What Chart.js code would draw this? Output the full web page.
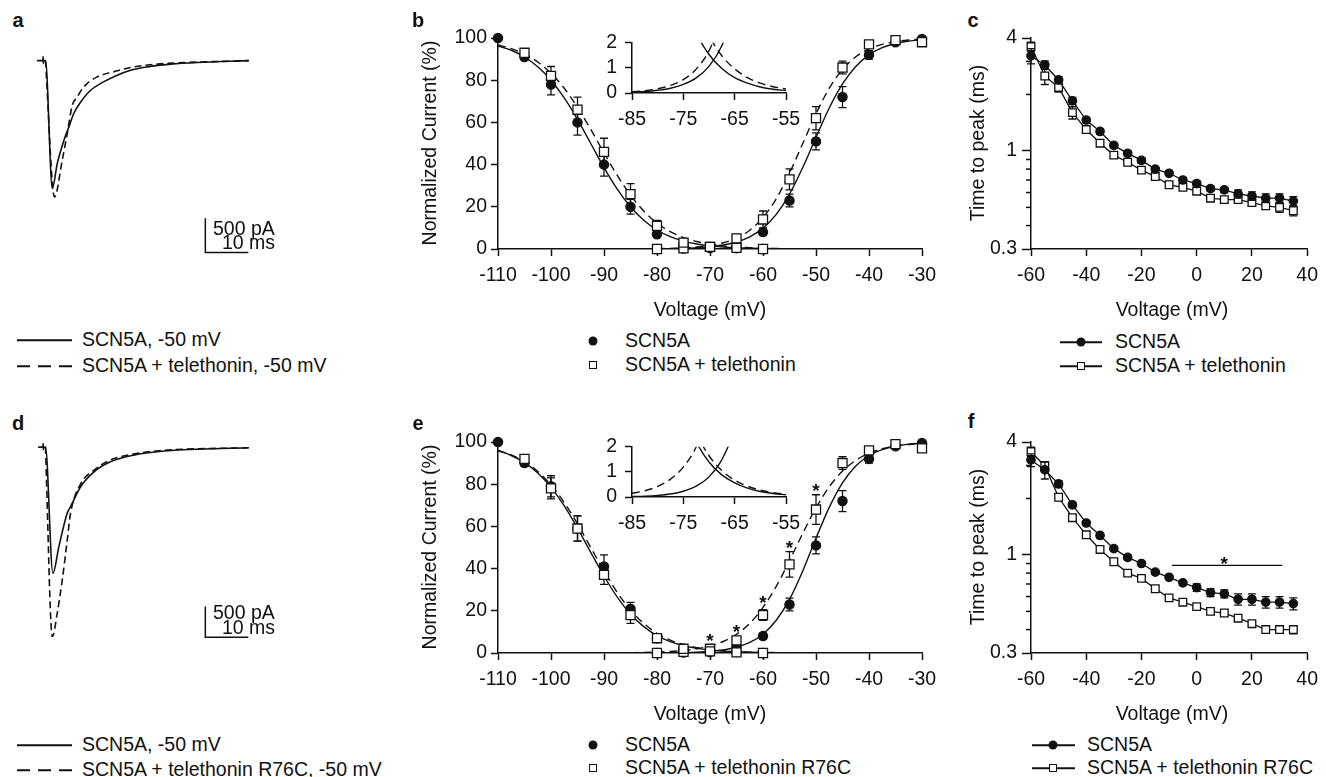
<!DOCTYPE html>
<html>
<head>
<meta charset="utf-8">
<script src="https://cdn.jsdelivr.net/npm/chart.js@4.4.1/dist/chart.umd.min.js"></script>
<style>
html, body { margin: 0; padding: 0; background: #fff; }
#fig { position: relative; width: 1326px; height: 777px; overflow: hidden; background: #fff;
       font-family: "Liberation Sans", Arial, sans-serif; color: #111; }
#fig canvas { position: absolute; }
.t { position: absolute; font-size: 19.5px; white-space: nowrap; line-height: 1; }
.c { transform: translate(-50%, -50%); }
.l { transform: translate(0, -50%); }
.v { transform: translate(-50%, -50%) rotate(-90deg); }
.p { font-weight: bold; font-size: 20px; }
.dot { position: absolute; width: 9px; height: 9px; border-radius: 50%; background: #111; transform: translate(-50%, -50%); }
.sq { position: absolute; width: 6px; height: 6px; border: 1.5px solid #111; background: #fff; transform: translate(-50%, -50%); }
.ln { position: absolute; height: 1.5px; background: #111; transform: translate(0, -50%); }
.dl { position: absolute; height: 1.5px; transform: translate(0, -50%);
      background: repeating-linear-gradient(to right, #111 0 13px, transparent 13px 21px); }
</style>
</head>
<body>
<div id="fig">
  <canvas id="chartA"></canvas>
  <canvas id="chartD"></canvas>
  <canvas id="chartB"></canvas>
  <canvas id="insetB"></canvas>
  <canvas id="chartE"></canvas>
  <canvas id="insetE"></canvas>
  <canvas id="chartC"></canvas>
  <canvas id="chartF"></canvas>

  <!-- panel letters -->
  <div class="t c p" style="left:18px;top:20px">a</div>
  <div class="t c p" style="left:418px;top:20px">b</div>
  <div class="t c p" style="left:973px;top:20px">c</div>
  <div class="t c p" style="left:18px;top:423px">d</div>
  <div class="t c p" style="left:418px;top:423px">e</div>
  <div class="t c p" style="left:971px;top:421px">f</div>

  <!-- scale bar text -->
  <div class="t l" style="left:213px;top:229px">500 pA</div>
  <div class="t l" style="left:222px;top:243px">10 ms</div>
  <div class="t l" style="left:213px;top:613px">500 pA</div>
  <div class="t l" style="left:222px;top:628px">10 ms</div>

  <!-- axis titles -->
  <div class="t v" style="left:430px;top:143px">Normalized Current (%)</div>
  <div class="t v" style="left:430px;top:547px">Normalized Current (%)</div>
  <div class="t v" style="left:978px;top:143px">Time to peak (ms)</div>
  <div class="t v" style="left:978px;top:547px">Time to peak (ms)</div>
  <div class="t c" style="left:710px;top:310px">Voltage (mV)</div>
  <div class="t c" style="left:710px;top:714px">Voltage (mV)</div>
  <div class="t c" style="left:1172px;top:310px">Voltage (mV)</div>
  <div class="t c" style="left:1172px;top:714px">Voltage (mV)</div>

  <!-- legend a -->
  <div class="ln" style="left:17px;top:340px;width:55px"></div>
  <div class="t l" style="left:82px;top:340px">SCN5A, -50 mV</div>
  <div class="dl" style="left:17px;top:366px;width:55px"></div>
  <div class="t l" style="left:82px;top:366px">SCN5A + telethonin, -50 mV</div>
  <!-- legend d -->
  <div class="ln" style="left:17px;top:745px;width:55px"></div>
  <div class="t l" style="left:82px;top:745px">SCN5A, -50 mV</div>
  <div class="dl" style="left:17px;top:770px;width:55px"></div>
  <div class="t l" style="left:82px;top:770px">SCN5A + telethonin R76C, -50 mV</div>

  <!-- legend b -->
  <div class="dot" style="left:593px;top:341px"></div>
  <div class="t l" style="left:625px;top:341px">SCN5A</div>
  <div class="sq" style="left:593px;top:365px"></div>
  <div class="t l" style="left:625px;top:365px">SCN5A + telethonin</div>
  <!-- legend e -->
  <div class="dot" style="left:593px;top:745px"></div>
  <div class="t l" style="left:625px;top:745px">SCN5A</div>
  <div class="sq" style="left:593px;top:768px"></div>
  <div class="t l" style="left:625px;top:768px">SCN5A + telethonin R76C</div>

  <!-- legend c -->
  <div class="ln" style="left:1060px;top:342px;width:42px"></div>
  <div class="dot" style="left:1081px;top:342px"></div>
  <div class="t l" style="left:1115px;top:342px">SCN5A</div>
  <div class="ln" style="left:1060px;top:366px;width:42px"></div>
  <div class="sq" style="left:1081px;top:366px"></div>
  <div class="t l" style="left:1115px;top:366px">SCN5A + telethonin</div>
  <!-- legend f -->
  <div class="ln" style="left:1032px;top:745px;width:43px"></div>
  <div class="dot" style="left:1053px;top:745px"></div>
  <div class="t l" style="left:1087px;top:745px">SCN5A</div>
  <div class="ln" style="left:1032px;top:768px;width:43px"></div>
  <div class="sq" style="left:1053px;top:768px"></div>
  <div class="t l" style="left:1087px;top:768px">SCN5A + telethonin R76C</div>
</div>

<script>
// ---------- a / d : current traces at -50 mV (time in ms, current in pA) ----------
const traceA_solidT = [-0.4, 1.0, 1.05, 1.1, 1.2, 1.6, 3.2, 4.35, 5.9, 7.05, 8.2, 9.8, 12.1, 15.1, 18.3, 21.4, 25.3, 30.7, 36.9, 48.9];
const traceA_solidI = [0, 0, 60, -40, 0, 0, -1875, -1507, -1169, -973, -772, -606, -434, -312, -213, -140, -91, -51, -26, 0];
const traceA_dashT = [1.6, 3.7, 5.5, 6.67, 7.84, 9.0, 10.5, 13.65, 17.4, 21.4, 27.6, 34.6, 48.9];
const traceA_dashI = [0, -2002, -1463, -1066, -654, -532, -385, -238, -165, -100, -51, -26, 0];

const traceD_solidT = [-0.1, 1.0, 1.05, 1.1, 1.2, 1.6, 3.33, 4.72, 6.67, 7.44, 9.77, 12.9, 16.7, 22.1, 29.9, 48.9];
const traceD_solidI = [0, 0, 60, -40, 0, 0, -2064, -1629, -1078, -975, -649, -404, -240, -131, -60, -11];
const traceD_dashT = [1.6, 3.19, 4.35, 5.51, 6.67, 7.44, 9.77, 12.9, 16.7, 22.1, 29.9, 48.9];
const traceD_dashI = [0, -3100, -2712, -2173, -1520, -1078, -605, -376, -212, -114, -49, -11];

// scale bars: 10 ms / 500 pA
const scaleBarT = [38.8, 38.8, 48.8];
const scaleBarA = [-2315, -2815, -2815];
const scaleBarD = [-2610, -3110, -3110];

// ---------- b / e : steady-state inactivation and activation (%) ----------
const inactV = [-110, -105, -100, -95, -90, -85, -80, -75, -70, -65, -60];
const telInactV = [-105, -100, -95, -90, -85, -80, -75, -70, -65, -60];
const actV = [-80, -75, -70, -65, -60, -55, -50, -45, -40, -35, -30];

const bInactWT = [100, 91, 78, 60, 40, 20, 7, 2.5, 1, 0.4, 0];
const bInactWTErr = [0, 1.5, 5, 6, 5.5, 3.5, 1.5, 0.8, 0.5, 0.3, 0.2];
const bInactTel = [93, 82, 66, 46, 26, 11, 3, 1, 0.5, 0];
const bInactTelErr = [1.5, 4.5, 6, 6.5, 5, 2.5, 1, 0.5, 0.3, 0.2];
const bActWT = [0, 0.2, 0.5, 1.5, 8, 23, 51, 72, 92, 98, 99.5];
const bActWTErr = [0.1, 0.1, 0.3, 0.5, 1.5, 3, 4, 5, 2, 0.8, 0.5];
const bActTel = [0, 0.3, 1, 5, 14, 33, 62, 86, 97, 99, 98];
const bActTelErr = [0.1, 0.1, 0.4, 1, 4, 5, 5.5, 3, 1, 0.6, 0.8];

const eInactWT = [100, 90, 79, 59, 41, 21, 7, 2, 1, 0.5, 0];
const eInactWTErr = [0, 1.5, 5, 6, 5.5, 3, 1.5, 0.8, 0.5, 0.3, 0.2];
const eInactR76C = [92, 78, 59, 37, 18, 7, 2, 0.8, 0.3, 0];
const eInactR76CErr = [2, 5, 6, 4.5, 4, 1.5, 0.8, 0.4, 0.3, 0.2];
const eActWT = [0, 0.2, 0.5, 3, 8, 23, 51, 72, 92, 98, 99.5];
const eActWTErr = [0.1, 0.1, 0.3, 0.5, 1.5, 3, 4, 5, 2, 0.8, 0.5];
const eActR76C = [0, 0.5, 2, 6, 18, 42, 68, 90, 96, 99, 97];
const eActR76CErr = [0.1, 0.2, 0.5, 1, 2.5, 6, 7, 3, 1, 0.5, 0.5];

// fitted curves
const fitInactV = [-110, -107.5, -105, -102.5, -100, -97.5, -95, -92.5, -90, -87.5, -85, -82.5, -80, -77.5, -75, -72.5, -70, -67.5, -65, -62.5, -60, -57.5, -55];
const fitActV = [-85, -82.5, -80, -77.5, -75, -72.5, -70, -67.5, -65, -62.5, -60, -57.5, -55, -52.5, -50, -47.5, -45, -42.5, -40, -37.5, -35, -32.5, -30];

const bFitInactWT = [96.2, 94.2, 91.0, 86.4, 80.0, 71.6, 61.4, 50.0, 38.6, 28.4, 20.0, 13.6, 9.0, 5.85, 3.76, 2.40, 1.53, 0.97, 0.61, 0.39, 0.24, 0.15, 0.10];
const bFitInactTel = [96.7, 95.0, 92.4, 88.6, 83.3, 76.2, 67.1, 56.7, 45.5, 34.9, 25.5, 18.0, 12.3, 8.2, 5.43, 3.55, 2.30, 1.48, 0.96, 0.61, 0.39, 0.25, 0.16];
const bFitActWT = [0.03, 0.06, 0.11, 0.19, 0.34, 0.60, 1.06, 1.88, 3.32, 5.78, 9.9, 16.4, 26.0, 38.6, 52.9, 66.8, 78.2, 86.5, 92.0, 95.4, 97.4, 98.5, 99.2];
const bFitActTel = [0.05, 0.09, 0.17, 0.30, 0.53, 0.95, 1.68, 2.97, 5.18, 8.9, 14.9, 23.8, 35.9, 50.0, 64.1, 76.2, 85.1, 91.1, 94.8, 97.0, 98.3, 99.05, 99.5];

const eFitInactWT = [95.9, 93.6, 90.2, 85.3, 78.5, 69.7, 59.2, 47.7, 36.5, 26.5, 18.5, 12.5, 8.26, 5.36, 3.45, 2.20, 1.39, 0.88, 0.56, 0.35, 0.22, 0.14, 0.09];
const eFitInactR76C = [96.0, 93.9, 90.7, 86.0, 79.6, 71.3, 61.2, 50.0, 38.8, 28.7, 20.4, 14.0, 9.34, 6.14, 3.98, 2.57, 1.64, 1.05, 0.67, 0.43, 0.27, 0.17, 0.11];
const eFitActWT = [0.02, 0.035, 0.066, 0.12, 0.23, 0.43, 0.80, 1.48, 2.72, 4.98, 8.9, 15.5, 25.4, 38.9, 54.4, 69.0, 80.6, 88.6, 93.6, 96.4, 98.1, 99.0, 99.4];
const eFitActR76C = [0.15, 0.25, 0.42, 0.71, 1.19, 1.99, 3.31, 5.45, 8.84, 14.0, 21.6, 31.6, 43.8, 56.7, 68.8, 78.8, 86.2, 91.3, 94.7, 96.8, 98.0, 98.8, 99.3];

// significance marks in e
const starsE_V = [-70, -65, -60, -55, -50];
const starsE_Y = [8.2, 12.3, 26, 52, 79];

// ---------- c / f : time to peak (ms) ----------
const ttpV = [-60, -55, -50, -45, -40, -35, -30, -25, -20, -15, -10, -5, 0, 5, 10, 15, 20, 25, 30, 35];
const cWT = [3.21, 2.87, 2.39, 1.85, 1.46, 1.27, 1.07, 0.97, 0.89, 0.80, 0.76, 0.70, 0.67, 0.63, 0.62, 0.59, 0.575, 0.56, 0.56, 0.54];
const cWTErr = [0.3, 0.15, 0.1, 0.08, 0.05, 0.04, 0.03, 0.03, 0.03, 0.02, 0.02, 0.02, 0.02, 0.02, 0.02, 0.03, 0.03, 0.03, 0.03, 0.03];
const cTel = [3.60, 2.51, 2.18, 1.60, 1.30, 1.10, 0.95, 0.87, 0.79, 0.73, 0.66, 0.64, 0.61, 0.56, 0.55, 0.55, 0.53, 0.51, 0.50, 0.48];
const cTelErr = [0.2, 0.25, 0.12, 0.12, 0.05, 0.04, 0.03, 0.03, 0.02, 0.02, 0.02, 0.02, 0.02, 0.02, 0.02, 0.02, 0.02, 0.02, 0.03, 0.03];
const fWT = [3.21, 2.84, 2.39, 1.85, 1.48, 1.27, 1.08, 0.97, 0.90, 0.81, 0.76, 0.71, 0.67, 0.63, 0.62, 0.58, 0.58, 0.56, 0.56, 0.55];
const fWTErr = [0.25, 0.3, 0.1, 0.06, 0.04, 0.04, 0.03, 0.03, 0.02, 0.02, 0.02, 0.02, 0.03, 0.03, 0.03, 0.04, 0.04, 0.04, 0.04, 0.04];
const fR76C = [3.55, 2.98, 2.03, 1.58, 1.28, 1.07, 0.92, 0.80, 0.75, 0.66, 0.59, 0.56, 0.53, 0.50, 0.49, 0.46, 0.43, 0.40, 0.40, 0.40];
const fR76CErr = [0.2, 0.15, 0.08, 0.05, 0.04, 0.03, 0.02, 0.02, 0.02, 0.02, 0.01, 0.01, 0.01, 0.01, 0.01, 0.01, 0.01, 0.01, 0.01, 0.02];
const logMajor = [0.3, 1, 4];
const logMinor = [0.4, 0.5, 0.6, 0.7, 0.8, 0.9, 2, 3];
const sigLineF_V = [-9, 31];
const sigLineF_Y = [0.88, 0.88];
const starF = { x: 10, y: 0.95 };

// ------------------------------------------------------------------
const INK = '#111';
const FONT = '"Liberation Sans", Arial, sans-serif';
const FS = 19.5;
Chart.defaults.font.family = FONT;
Chart.defaults.font.size = FS;
Chart.defaults.color = INK;

const xy = (xs, ys) => xs.map((x, i) => ({ x: x, y: ys[i] }));

// sets the canvas so the plot area lands on the given page box
function place(id, area, m) {
  const c = document.getElementById(id);
  const w = area.r - area.l + m.l + m.r;
  const h = area.b - area.t + m.t + m.b;
  c.width = w; c.height = h;
  c.style.width = w + 'px'; c.style.height = h + 'px';
  c.style.left = (area.l - m.l) + 'px';
  c.style.top = (area.t - m.t) + 'px';
  return c;
}

function baseOptions(m) {
  return {
    responsive: false, animation: false, devicePixelRatio: 1, events: [],
    layout: { padding: { left: 0, top: m.t, right: m.r, bottom: 0 } },
    plugins: { legend: { display: false }, tooltip: { enabled: false } }
  };
}

function linAxis(min, max, step, size, tl, pad) {
  return {
    type: 'linear', min: min, max: max,
    ticks: { stepSize: step, autoSkip: false, maxRotation: 0, padding: pad, color: INK, font: { size: FS } },
    grid: { drawOnChartArea: false, tickLength: tl, tickWidth: 1.5, tickColor: INK },
    border: { color: INK, width: 1.5 },
    afterFit: function (s) { if (s.isHorizontal()) s.height = size; else s.width = size; }
  };
}

// error bars drawn just before each marker dataset
const errBars = {
  id: 'errBars',
  beforeDatasetDraw(chart, args) {
    const ds = chart.data.datasets[args.index];
    if (!ds.errors) return;
    const xs = chart.scales.x, ys = chart.scales.y, ctx = chart.ctx;
    const cap = ds.cap || 4;
    ctx.save();
    ctx.strokeStyle = INK; ctx.lineWidth = 1.3;
    ds.data.forEach(function (p, i) {
      const e = ds.errors[i];
      if (!e) return;
      const x = xs.getPixelForValue(p.x);
      const y1 = ys.getPixelForValue(p.y + e);
      const y2 = ys.getPixelForValue(Math.max(p.y - e, ys.min));
      ctx.beginPath();
      ctx.moveTo(x, y1); ctx.lineTo(x, y2);
      ctx.moveTo(x - cap, y1); ctx.lineTo(x + cap, y1);
      ctx.moveTo(x - cap, y2); ctx.lineTo(x + cap, y2);
      ctx.stroke();
    });
    ctx.restore();
  }
};

function starPlugin(xs, ys) {
  return {
    id: 'stars',
    afterDatasetsDraw(chart) {
      const ctx = chart.ctx;
      ctx.save();
      ctx.fillStyle = INK; ctx.font = 'bold 19px ' + FONT;
      ctx.textAlign = 'center'; ctx.textBaseline = 'alphabetic';
      xs.forEach(function (v, i) {
        ctx.fillText('*', chart.scales.x.getPixelForValue(v), chart.scales.y.getPixelForValue(ys[i]) + 11);
      });
      ctx.restore();
    }
  };
}

const minorTicks = {
  id: 'minorTicks',
  afterDraw(chart) {
    const ys = chart.scales.y, ctx = chart.ctx, x0 = chart.chartArea.left;
    ctx.save();
    ctx.strokeStyle = INK; ctx.lineWidth = 1.5;
    logMinor.forEach(function (v) {
      const y = ys.getPixelForValue(v);
      ctx.beginPath(); ctx.moveTo(x0 - 5, y); ctx.lineTo(x0, y); ctx.stroke();
    });
    ctx.restore();
  }
};

function markers(xs, ys, errs, filled, r) {
  return {
    data: xy(xs, ys), errors: errs, showLine: false, clip: false,
    pointStyle: filled ? 'circle' : 'rect',
    pointRadius: r, pointBackgroundColor: filled ? INK : '#fff',
    pointBorderColor: INK, pointBorderWidth: 1.3
  };
}

function curve(xs, ys, dashed) {
  return {
    data: xy(xs, ys), showLine: true, pointRadius: 0, clip: 0,
    borderColor: INK, borderWidth: 1.4, borderDash: dashed ? [8, 5] : [],
    cubicInterpolationMode: 'monotone'
  };
}

// ---------- traces ----------
function traceChart(id, area, yMin, yMax, solid, dashed, bar) {
  place(id, area, { l: 0, t: 0, r: 0, b: 0 });
  const line = function (d, dash) {
    return { data: d, showLine: true, pointRadius: 0, borderColor: INK, borderWidth: 1.6,
             borderDash: dash, cubicInterpolationMode: 'monotone' };
  };
  const opts = baseOptions({ t: 0, r: 0 });
  opts.scales = {
    x: { type: 'linear', display: false, min: -2, max: 58.5 },
    y: { type: 'linear', display: false, min: yMin, max: yMax }
  };
  new Chart(document.getElementById(id), {
    type: 'scatter',
    data: { datasets: [
      line(solid, []), line(dashed, [7, 4]),
      { data: bar, showLine: true, pointRadius: 0, borderColor: INK, borderWidth: 1.5, tension: 0 }
    ] },
    options: opts
  });
}

traceChart('chartA', { l: 30, t: 45, r: 290, b: 265 }, -3000, 230,
  xy(traceA_solidT, traceA_solidI), xy(traceA_dashT, traceA_dashI), xy(scaleBarT, scaleBarA));
traceChart('chartD', { l: 30, t: 430, r: 290, b: 650 }, -3320, 280,
  xy(traceD_solidT, traceD_solidI), xy(traceD_dashT, traceD_dashI), xy(scaleBarT, scaleBarD));

// ---------- steady state ----------
function steadyChart(id, area, sets, extra) {
  const m = { l: 80, t: 20, r: 30, b: 50 };
  place(id, area, m);
  const opts = baseOptions(m);
  opts.scales = { x: linAxis(-110, -30, 10, m.b, 7, 8), y: linAxis(0, 100, 20, m.l, 7, 4) };
  opts.scales.y.position = 'left';
  new Chart(document.getElementById(id), {
    type: 'scatter', data: { datasets: sets }, options: opts,
    plugins: [errBars].concat(extra || [])
  });
}

function insetChart(id, area, sets) {
  const m = { l: 40, t: 15, r: 25, b: 45 };
  place(id, area, m);
  const opts = baseOptions(m);
  opts.scales = { x: linAxis(-85, -55, 10, m.b, 7, 8), y: linAxis(0, 2, 1, m.l, 7, 8) };
  new Chart(document.getElementById(id), { type: 'scatter', data: { datasets: sets }, options: opts });
}

steadyChart('chartB', { l: 498, t: 38, r: 922, b: 249 }, [
  markers(telInactV, bInactTel, bInactTelErr, false, 6.4),
  markers(actV, bActTel, bActTelErr, false, 6.4),
  markers(inactV, bInactWT, bInactWTErr, true, 4.6),
  markers(actV, bActWT, bActWTErr, true, 4.6),
  curve(fitInactV, bFitInactWT, false), curve(fitInactV, bFitInactTel, true),
  curve(fitActV, bFitActWT, false), curve(fitActV, bFitActTel, true)
]);
insetChart('insetB', { l: 632, t: 38, r: 786, b: 93 }, [
  curve(fitInactV, bFitInactWT, false), curve(fitInactV, bFitInactTel, true),
  curve(fitActV, bFitActWT, false), curve(fitActV, bFitActTel, true)
]);

steadyChart('chartE', { l: 498, t: 442, r: 922, b: 653 }, [
  markers(telInactV, eInactR76C, eInactR76CErr, false, 6.4),
  markers(actV, eActR76C, eActR76CErr, false, 6.4),
  markers(inactV, eInactWT, eInactWTErr, true, 4.6),
  markers(actV, eActWT, eActWTErr, true, 4.6),
  curve(fitInactV, eFitInactWT, false), curve(fitInactV, eFitInactR76C, true),
  curve(fitActV, eFitActWT, false), curve(fitActV, eFitActR76C, true)
], [starPlugin(starsE_V, starsE_Y)]);
insetChart('insetE', { l: 632, t: 442, r: 786, b: 497 }, [
  curve(fitInactV, eFitInactWT, false), curve(fitInactV, eFitInactR76C, true),
  curve(fitActV, eFitActWT, false), curve(fitActV, eFitActR76C, true)
]);

// ---------- time to peak ----------
function ttpSeries(ys, errs, filled) {
  const s = markers(ttpV, ys, errs, filled, filled ? 4.2 : 5.4);
  s.showLine = true; s.borderColor = INK; s.borderWidth = 1.3; s.tension = 0;
  return s;
}

function ttpChart(id, area, sets, extra) {
  const m = { l: 50, t: 20, r: 12, b: 50 };
  place(id, area, m);
  const opts = baseOptions(m);
  const y = linAxis(0.3, 4, 1, m.l, 9, 5);
  y.type = 'logarithmic';
  delete y.ticks.stepSize;
  y.afterBuildTicks = function (s) { s.ticks = logMajor.map(function (v) { return { value: v }; }); };
  y.ticks.callback = function (v) { return String(v); };
  opts.scales = { x: linAxis(-60, 40, 20, m.b, 7, 8), y: y };
  new Chart(document.getElementById(id), {
    type: 'scatter', data: { datasets: sets }, options: opts,
    plugins: [errBars, minorTicks].concat(extra || [])
  });
}

ttpChart('chartC', { l: 1031, t: 38, r: 1314, b: 249 }, [
  ttpSeries(cWT, cWTErr, true),
  ttpSeries(cTel, cTelErr, false)
]);
ttpChart('chartF', { l: 1031, t: 442, r: 1314, b: 653 }, [
  ttpSeries(fWT, fWTErr, true),
  ttpSeries(fR76C, fR76CErr, false),
  { data: xy(sigLineF_V, sigLineF_Y), showLine: true, pointRadius: 0, borderColor: INK, borderWidth: 1.3 }
], [starPlugin([starF.x], [starF.y])]);
</script>
</body>
</html>
